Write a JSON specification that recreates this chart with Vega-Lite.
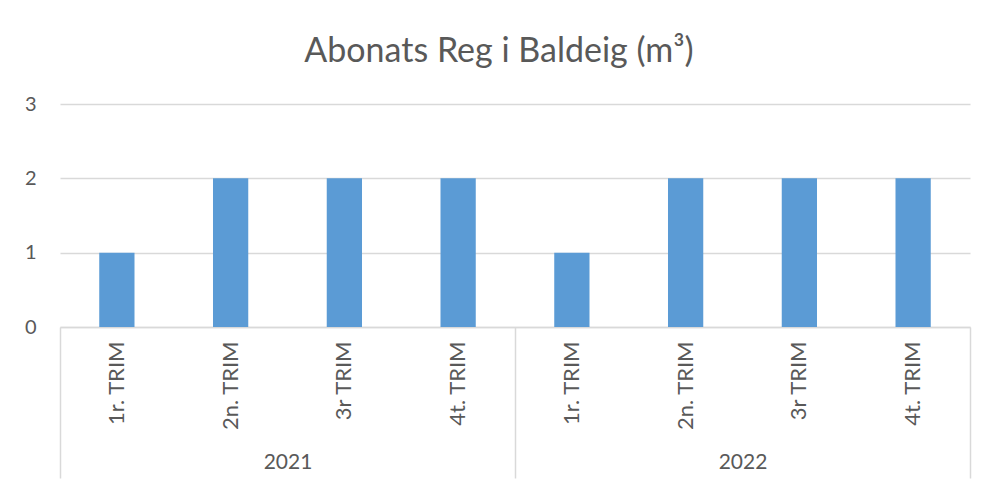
{
  "$schema": "https://vega.github.io/schema/vega-lite/v6.json",
  "width": 910,
  "height": 223,
  "autosize": {"type": "none"},
  "padding": {"left": 60, "top": 104, "right": 17, "bottom": 161},
  "background": "white",
  "title": {
    "text": "Abonats Reg i Baldeig (m³)",
    "fontSize": 34,
    "font": "Lato",
    "fontWeight": "normal",
    "color": "#595959",
    "anchor": "middle",
    "offset": 25,
    "dx": -16
  },
  "data": {
    "values": [
      {"year": "2021", "period": "2021|1r. TRIM", "value": 1},
      {"year": "2021", "period": "2021|2n. TRIM", "value": 2},
      {"year": "2021", "period": "2021|3r TRIM", "value": 2},
      {"year": "2021", "period": "2021|4t. TRIM", "value": 2},
      {"year": "2022", "period": "2022|1r. TRIM", "value": 1},
      {"year": "2022", "period": "2022|2n. TRIM", "value": 2},
      {"year": "2022", "period": "2022|3r TRIM", "value": 2},
      {"year": "2022", "period": "2022|4t. TRIM", "value": 2}
    ]
  },
  "config": {"view": {"stroke": null}, "font": "Lato"},
  "layer": [
    {
      "mark": {"type": "bar", "color": "#5B9BD5"},
      "encoding": {
        "x": {
          "field": "period",
          "type": "nominal",
          "sort": null,
          "scale": {"paddingInner": 0.69, "paddingOuter": 0.345},
          "axis": {
            "orient": "bottom",
            "title": null,
            "labelExpr": "split(datum.label, '|')[1]",
            "labelAngle": -90,
            "labelFontSize": 22,
            "labelColor": "#595959",
            "labelPadding": 14,
            "ticks": false,
            "domainColor": "#d9d9d9",
            "domainWidth": 1.5,
            "grid": false
          }
        },
        "y": {
          "field": "value",
          "type": "quantitative",
          "scale": {"domain": [0, 3]},
          "axis": {
            "title": null,
            "values": [0, 1, 2, 3],
            "grid": true,
            "gridColor": "#d9d9d9",
            "gridWidth": 1.5,
            "domain": false,
            "ticks": false,
            "labelFontSize": 20,
            "labelColor": "#595959",
            "labelPadding": 24
          }
        }
      }
    },
    {
      "mark": {"type": "bar", "opacity": 0},
      "encoding": {
        "x": {
          "field": "year",
          "type": "nominal",
          "scale": {"paddingInner": 0, "paddingOuter": 0},
          "axis": {
            "orient": "bottom",
            "title": null,
            "labelAngle": 0,
            "tickBand": "extent",
            "tickSize": 151,
            "tickColor": "#d9d9d9",
            "tickWidth": 1.5,
            "domain": false,
            "labelFontSize": 21,
            "labelColor": "#595959",
            "labelPadding": -27,
            "grid": false
          }
        }
      }
    }
  ],
  "resolve": {"scale": {"x": "independent"}, "axis": {"x": "independent"}}
}
